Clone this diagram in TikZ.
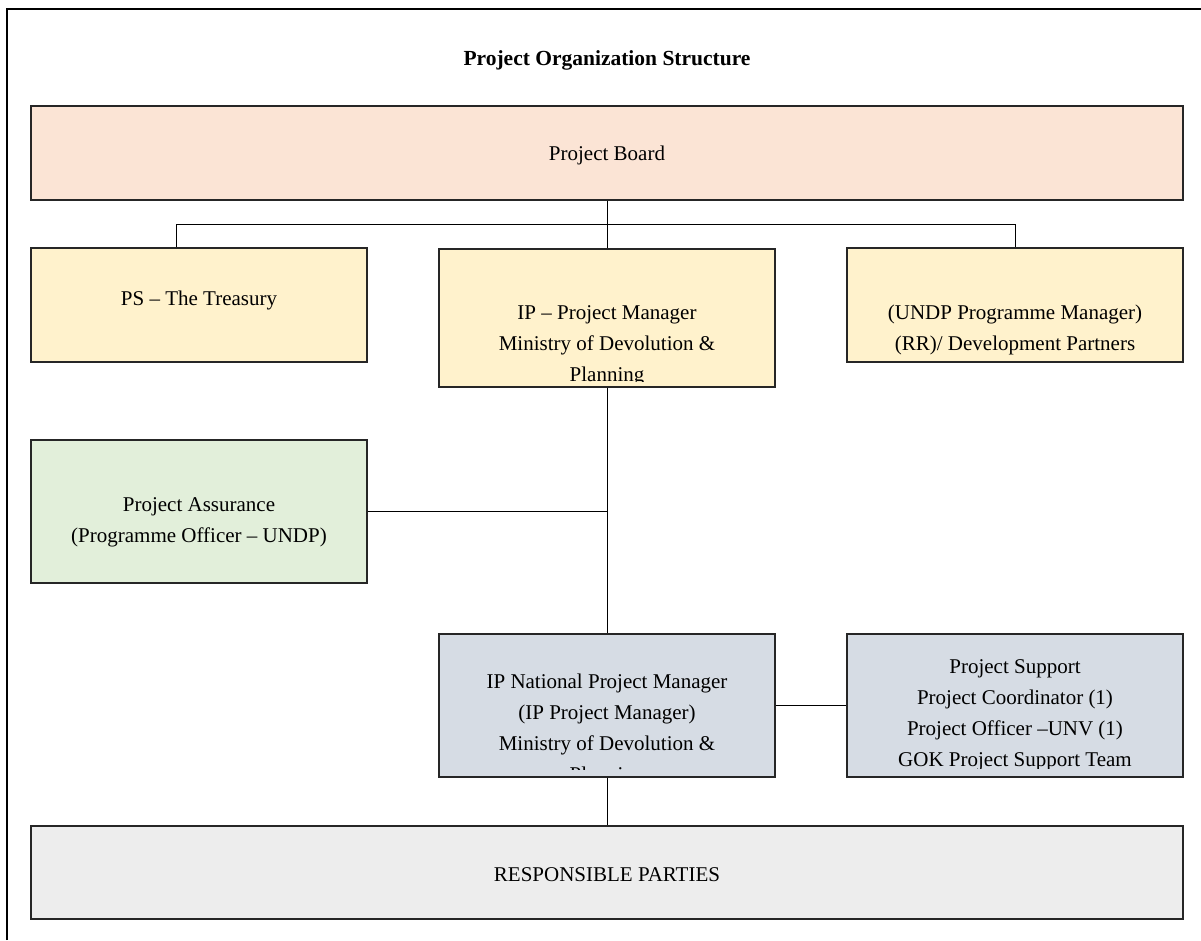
\documentclass[tikz,border=0pt]{standalone}
\usepackage{fontspec}
\setmainfont{Liberation Serif}
\usepackage{xcolor}
\usepackage{tikz}

\definecolor{boardfill}{HTML}{FBE4D5}
\definecolor{mgmtfill}{HTML}{FFF2CC}
\definecolor{assurfill}{HTML}{E2EFDA}
\definecolor{execfill}{HTML}{D6DCE4}
\definecolor{partyfill}{HTML}{EDEDED}

\begin{document}
\begin{tikzpicture}[
  x = 1pt, y = -1pt,
  unitbox/.style = {draw = black!85, line width = 1.4pt, inner sep = 0pt,
                    minimum width = 336pt, minimum height = #1},
  widebox/.style = {unitbox = #1, minimum width = 1152pt},
  txt/.style = {font = \fontsize{21}{31}\selectfont, align = center, inner sep = 0pt},
  link/.style = {draw, line width = 0.9pt}
  ]
  \useasboundingbox (0,0) rectangle (1201,940);
  \draw[line width = 2.8pt] (7,940) -- (7,9) -- (1201,9);

  \node[txt, font = \bfseries\fontsize{21.5}{25}\selectfont] (title) at (607,60)
       {Project Organization Structure};

  % boxes
  \node[widebox = 94pt, fill = boardfill] (board) at (607,153) {};
  \node[unitbox = 114pt, fill = mgmtfill] (ps) at (199,305) {};
  \node[unitbox = 138pt, fill = mgmtfill] (ip) at (607,318) {};
  \node[unitbox = 114pt, fill = mgmtfill] (undp) at (1015,305) {};
  \node[unitbox = 143pt, fill = assurfill] (assur) at (199,511.5) {};
  \node[unitbox = 143pt, fill = execfill] (npm) at (607,705.5) {};
  \node[unitbox = 143pt, fill = execfill] (supp) at (1015,705.5) {};
  \node[widebox = 93pt, fill = partyfill] (rp) at (607,872.5) {};

  % texts
  \node[txt] (board-t) at (607,155) {Project Board};
  \node[txt] (ps-t) at (199,300) {PS -- The Treasury};
  \begin{scope}
    \clip ([xshift = 1pt]ip.north west) rectangle ([yshift = 6pt]ip.south east);
    \node[txt] (ip-t) at (607,345.5)
         {IP -- Project Manager\\Ministry of Devolution \&\\Planning};
  \end{scope}
  \node[txt] (undp-t) at (1015,329.5)
       {(UNDP Programme Manager)\\(RR)/ Development Partners};
  \node[txt] (assur-t) at (199,522.5)
       {Project Assurance\\(Programme Officer -- UNDP)};
  \begin{scope}
    \clip (npm.north west) rectangle ([yshift = 8pt]npm.south east);
    \node[txt] (npm-t) at (607,730)
         {IP National Project Manager\\(IP Project Manager)\\Ministry of Devolution \&\\Planning};
  \end{scope}
  \begin{scope}
    \clip (supp.north west) rectangle ([yshift = 9pt]supp.south east);
    \node[txt] (supp-t) at (1015,715.5)
         {Project Support\\Project Coordinator (1)\\Project Officer --UNV (1)\\GOK Project Support Team};
  \end{scope}
  \node[txt] (rp-t) at (607,874.5) {RESPONSIBLE PARTIES};

  % connectors
  \coordinate (bus) at (607,224);
  \coordinate (bus-w) at (176,224);
  \draw[link] (board.south) -- (ip.north);
  \draw[link] (bus-w |- ps.north) -- (bus-w) -- (undp.north |- bus) -- (undp.north);
  \draw[link] (ip.south) -- (npm.north);
  \draw[link] (assur.east) -- (assur.east -| ip.south);
  \draw[link] (npm.east) -- (supp.west);
  \draw[link] (npm.south) -- (rp.north);
\end{tikzpicture}
\end{document}
